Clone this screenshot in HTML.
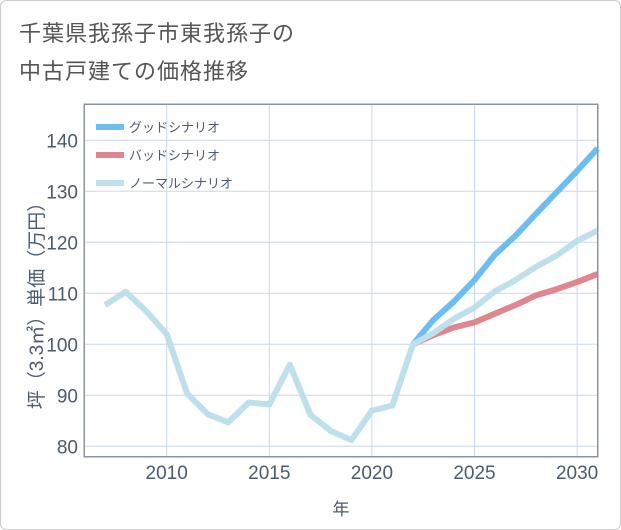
<!DOCTYPE html>
<html><head><meta charset="utf-8"><style>
body{margin:0;background:#fff;font-family:"Liberation Sans","Noto Sans CJK JP",sans-serif;}
#wrap{position:relative;width:619px;height:528px;border:1px solid #ccc;border-radius:6px;background:#fff;overflow:hidden}
#title{position:absolute;left:18px;top:14px;font-size:22px;line-height:38px;color:#555;letter-spacing:1px}
svg{position:absolute;left:0;top:0}
</style></head><body>
<div id="wrap">
<div id="title">千葉県我孫子市東我孫子の<br>中古戸建ての価格推移</div>
<svg id="chart" width="621" height="530"></svg>
</div>
<script>
const years=[2007,2008,2009,2010,2011,2012,2013,2014,2015,2016,2017,2018,2019,2020,2021,2022,2023,2024,2025,2026,2027,2028,2029,2030,2031];
const normalValues=[107.7,110.3,106.5,102,90.3,86.3,84.7,88.6,88.2,96,86.2,83,81.2,87,88,100,102.2,105,107.2,110.4,112.6,115.2,117.4,120.3,122.3];
const goodYears=[2022,2023,2024,2025,2026,2027,2028,2029,2030,2031];
const goodValues=[100,104.8,108.4,112.6,117.6,121.3,125.6,129.8,134,138.4];
const badValues=[100,101.8,103.3,104.3,106,107.7,109.6,110.8,112.2,113.8];
const xTicks=[2010,2015,2020,2025,2030];
const yTicks=[80,90,100,110,120,130,140];
const legendLabels=["グッドシナリオ","バッドシナリオ","ノーマルシナリオ"];
const ns="http://www.w3.org/2000/svg";
const svg=document.getElementById('chart');
const L=83,R=597,T=103,B=456;
const X=y=>165.7+(y-2010)*20.52;
const Y=v=>445.3-(v-80)*5.1;
function mk(t,a,p){const e=document.createElementNS(ns,t);for(const k in a)e.setAttribute(k,a[k]);(p||svg).appendChild(e);return e;}
mk('rect',{x:L,y:T,width:R-L,height:B-T,fill:'#fff',stroke:'#8a949e','stroke-width':1});
yTicks.forEach(v=>{
const g=mk('line',{x1:L,x2:R,y1:Y(v),y2:Y(v),stroke:'#c9d8e6','stroke-width':1});


const t=mk('text',{x:L-6,y:Y(v)+7,'text-anchor':'end','font-size':19,fill:'#4a5a70'});t.textContent=v;


});
xTicks.forEach(v=>{
const g=mk('line',{x1:X(v),x2:X(v),y1:T,y2:B,stroke:'#c9d8e6','stroke-width':1});


const t=mk('text',{x:X(v),y:B+22,'text-anchor':'middle','font-size':19,fill:'#4a5a70'});t.textContent=v;


});
function line(xs,vs,color,name){
const p=mk('polyline',{points:xs.map((y,i)=>X(y)+','+Y(vs[i])).join(' '),fill:'none',stroke:color,'stroke-width':6,'stroke-linejoin':'round'});


}
line(goodYears,badValues,'#e0868f','bad-scenario-line');
line(goodYears,goodValues,'#6cbdf2','good-scenario-line');
line(years,normalValues,'#bde0ec','normal-scenario-line');
mk('rect',{x:L+0.5,y:T+0.5,width:R-L-1,height:B-T-1,fill:'none',stroke:'#8a949e','stroke-width':1});
const cols=['#6cbdf2','#e0868f','#bde0ec'];
legendLabels.forEach((s,i)=>{
const y=126+i*28;
const g=mk('g',{});


mk('line',{x1:95,x2:123,y1:y,y2:y,stroke:cols[i],'stroke-width':6},g);
const t=mk('text',{x:128,y:y+5,'font-size':13,fill:'#4a5a70'},g);t.textContent=s;
});
const yt=mk('text',{transform:'translate(42,300) rotate(-90)','text-anchor':'middle','font-size':19,fill:'#4a5a70'});
yt.textContent='坪（3.3㎡）単価（万円）';


const xt=mk('text',{x:340,y:514,'text-anchor':'middle','font-size':17,fill:'#4a5a70'});
xt.textContent='年';


</script>
</body></html>
